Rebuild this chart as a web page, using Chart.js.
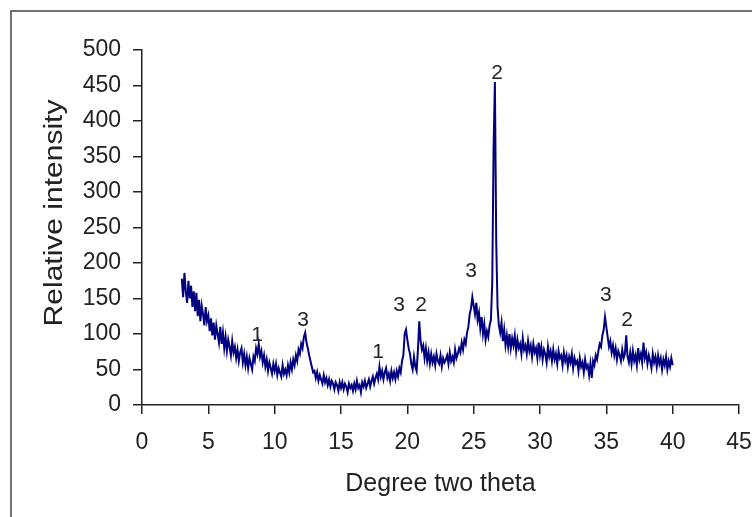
<!DOCTYPE html>
<html>
<head>
<meta charset="utf-8">
<script src="https://cdn.jsdelivr.net/npm/chart.js@4.4.1/dist/chart.umd.min.js"></script>
<style>
  body { margin: 0; background: #fff; }
  #wrap { width: 752px; height: 517px; }
</style>
</head>
<body>
<div id="wrap"><canvas id="xrd" width="752" height="517"></canvas></div>
<script>
// XRD scan, 3 to 40 degrees two theta, step 0.1
const startAngle = 3;
const stepAngle = 0.1;

const intensity = [
  178,152,186,160,144,175,150,168,138,160,   // 3
  132,158,125,148,118,140,128,112,138,118,   // 4
  126,104,122,98,116,92,112,100,88,110,      // 5
  86,102,80,96,76,92,82,70,90,74,            // 6
  82,66,78,62,74,80,60,72,56,68,             // 7
  52,66,58,50,68,62,80,72,86,68,             // 8
  76,60,70,54,64,48,60,52,44,58,             // 9
  48,58,42,52,46,40,56,44,50,42,             // 10
  56,46,60,50,64,56,70,62,78,72,             // 11
  86,80,96,102,88,80,70,62,54,46,            // 12
  48,38,46,34,42,36,30,42,32,38,             // 13
  28,36,26,34,30,22,32,28,20,32,             // 14
  24,32,22,30,26,18,30,24,28,20,             // 15
  30,22,34,24,28,18,32,26,34,24,             // 16
  30,36,26,34,40,30,38,44,36,54,             // 17
  40,48,36,46,52,38,44,34,48,38,             // 18
  46,36,48,40,52,46,62,70,100,106,           // 19
  92,80,72,58,50,68,54,48,78,118,            // 20
  90,78,84,66,80,62,74,58,72,60,             // 21
  68,56,72,62,58,70,54,66,60,64,             // 22
  70,58,74,62,68,60,78,66,72,80,             // 23
  74,88,78,92,86,102,110,128,136,152,        // 24
  140,128,144,120,130,108,124,100,114,92,    // 25
  104,96,112,120,172,360,455,230,138,112,    // 26
  102,116,90,106,84,98,82,100,80,94,         // 27
  84,98,76,92,80,86,72,94,78,84,             // 28
  72,90,76,84,68,86,74,80,66,88,             // 29
  70,82,64,78,72,60,82,68,76,62,             // 30
  78,64,72,58,76,66,70,56,74,62,             // 31
  70,54,68,60,72,52,66,58,62,48,             // 32
  66,54,60,46,64,52,56,42,58,38,             // 33
  62,56,70,64,76,86,82,98,106,124,           // 34
  110,96,82,90,74,84,70,80,64,76,            // 35
  70,62,78,66,72,98,68,60,74,58,             // 36
  76,62,70,56,80,64,72,60,88,66,             // 37
  74,58,70,62,52,72,60,68,54,70,             // 38
  58,66,50,64,56,68,50,62,54,66,             // 39
  56                                         // 40
];

// peak labels (phase numbers) placed in data coordinates
const peakLabels = ['1', '3', '1', '3', '2', '3', '2', '3', '2'];
const peakX = [8.67, 12.14, 17.79, 19.37, 21.03, 24.8, 26.76, 34.97, 36.56];
const peakY = [99, 120, 75, 141, 141, 189, 468, 155, 120];

const xTitle = 'Degree two theta';
const yTitle = 'Relative intensity';

const points = intensity.map((v, i) => ({ x: +(startAngle + i * stepAngle).toFixed(1), y: v }));

const FONT = '"Liberation Sans", Arial, sans-serif';
const INK = '#222';

// outer frame of the old spreadsheet chart (cut off at right and bottom)
const framePlugin = {
  id: 'frame',
  beforeDraw(chart) {
    const c = chart.ctx;
    c.save();
    c.strokeStyle = '#444';
    c.lineWidth = 1.5;
    c.beginPath();
    c.moveTo(11, 517);
    c.lineTo(11, 11);
    c.lineTo(752, 11);
    c.stroke();
    c.restore();
  }
};

// y title is a bit stretched in the original, so draw it by hand
const yTitlePlugin = {
  id: 'ytitle',
  afterDraw(chart) {
    const c = chart.ctx;
    c.save();
    c.translate(55, 213);
    c.rotate(-Math.PI / 2);
    c.scale(1.2, 1);
    c.fillStyle = INK;
    c.font = '25px ' + FONT;
    c.textAlign = 'center';
    c.textBaseline = 'middle';
    c.fillText(yTitle, 0, 0);
    c.restore();
  }
};

const peakPlugin = {
  id: 'peaks',
  afterDatasetsDraw(chart) {
    const c = chart.ctx, sx = chart.scales.x, sy = chart.scales.y;
    c.save();
    c.fillStyle = INK;
    c.font = '21px ' + FONT;
    c.textAlign = 'center';
    c.textBaseline = 'middle';
    peakLabels.forEach((t, i) => {
      c.fillText(t, sx.getPixelForValue(peakX[i]), sy.getPixelForValue(peakY[i]));
    });
    c.restore();
  }
};

new Chart(document.getElementById('xrd'), {
  type: 'scatter',
  data: {
    datasets: [{
      data: points,
      showLine: true,
      borderColor: '#000080',
      borderWidth: 2,
      pointRadius: 0,
      tension: 0
    }]
  },
  options: {
    responsive: false,
    animation: false,
    devicePixelRatio: 1,
    layout: { padding: { left: 0, top: 50, right: 0, bottom: 0 } },
    plugins: { legend: { display: false }, tooltip: { enabled: false } },
    scales: {
      x: {
        type: 'linear', min: 0, max: 45,
        afterFit: s => { s.height = 112; s.paddingLeft = 0; s.paddingRight = 13; },
        ticks: { stepSize: 5, color: INK, font: { family: FONT, size: 23 }, padding: 15, maxRotation: 0 },
        grid: { drawOnChartArea: false, drawTicks: true, tickLength: 9, color: INK, lineWidth: 1.5 },
        border: { display: true, color: INK, width: 1.5 },
        title: { display: true, text: xTitle, color: INK, font: { family: FONT, size: 25 }, padding: { top: 0, bottom: 18 } }
      },
      y: {
        min: 0, max: 500,
        afterFit: s => { s.width = 142; },
        ticks: { stepSize: 50, color: INK, font: { family: FONT, size: 23 }, padding: 12 },
        grid: { drawOnChartArea: false, drawTicks: true, tickLength: 9, color: INK, lineWidth: 1.5 },
        border: { display: true, color: INK, width: 1.5 }
      }
    }
  },
  plugins: [framePlugin, yTitlePlugin, peakPlugin]
});
</script>
</body>
</html>
